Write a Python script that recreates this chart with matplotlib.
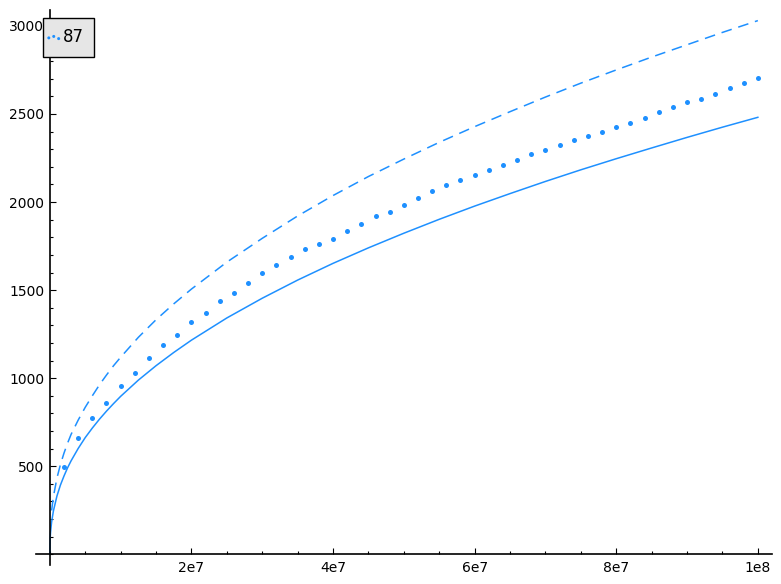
import matplotlib
matplotlib.use("Agg")
import matplotlib.pyplot as plt
from matplotlib.ticker import MultipleLocator, FixedLocator, FixedFormatter
from matplotlib.legend_handler import HandlerPathCollection

# point series (legend "87"), one dot every 2e6
dot_x = [2e6 * (i + 1) for i in range(50)]
dot_y = [496, 661, 773, 862, 955, 1027, 1114, 1186, 1244, 1318,
         1369, 1436, 1483, 1538, 1595, 1640, 1688, 1733, 1761, 1792,
         1837, 1877, 1919, 1946, 1981, 2025, 2064, 2097, 2127, 2152,
         2184, 2210, 2241, 2273, 2297, 2322, 2350, 2373, 2396, 2426,
         2449, 2476, 2510, 2538, 2566, 2585, 2614, 2646, 2676, 2705]

# curves
curve_x = [0, 5e4, 1e5, 2.5e5, 5e5, 1e6, 1.5e6, 2e6, 2.5e6, 3e6, 4e6, 5e6,
           6e6, 7e6, 8e6, 9e6, 1e7, 1.25e7, 1.5e7, 1.75e7, 2e7, 2.5e7, 3e7,
           3.5e7, 4e7, 4.5e7, 5e7, 5.5e7, 6e7, 6.5e7, 7e7, 7.5e7, 8e7,
           8.5e7, 9e7, 9.5e7, 1e8]
solid_y = [0, 94, 126, 184, 246, 331, 394, 445, 491, 531, 601, 663,
           717, 767, 813, 856, 897, 989, 1071, 1146, 1216, 1342, 1454,
           1557, 1652, 1740, 1823, 1902, 1977, 2048, 2117, 2183, 2246,
           2307, 2367, 2425, 2481]
dashed_x = curve_x[3:]
dashed_y = [249, 327, 433, 511, 575, 631, 681, 762, 835,
            900, 962, 1018, 1071, 1119, 1232, 1332, 1422, 1506, 1659, 1794,
            1921, 2037, 2145, 2244, 2339, 2428, 2513, 2596, 2675, 2750,
            2823, 2893, 2963, 3030]

xtick_vals = [2e7, 4e7, 6e7, 8e7, 1e8]
xtick_labels = ["2e7", "4e7", "6e7", "8e7", "1e8"]
legend_label = "87"

color = "#1e90ff"

fig = plt.figure(figsize=(7.81, 5.84), dpi=100)
ax = fig.add_axes([0.0457, 0.0325, 0.9428, 0.9505])

ax.plot(curve_x, solid_y, color=color, linewidth=1.1)
ax.plot(dashed_x, dashed_y, color=color, linewidth=1.1, dashes=(7, 4.5))
pts = ax.scatter(dot_x, dot_y, s=13, color=color, linewidths=0,
                 label=legend_label, zorder=3)

ax.set_xlim(-2e6, 1.02e8)
ax.set_ylim(-60.6, 3090.6)

# sage-like axes crossing at zero
for s in ["top", "right"]:
    ax.spines[s].set_visible(False)
for s in ["left", "bottom"]:
    ax.spines[s].set_position(("data", 0))
    ax.spines[s].set_linewidth(1.2)

ax.xaxis.set_major_locator(FixedLocator(xtick_vals))
ax.xaxis.set_major_formatter(FixedFormatter(xtick_labels))
ax.xaxis.set_minor_locator(MultipleLocator(5e6))
ax.yaxis.set_major_locator(FixedLocator([500, 1000, 1500, 2000, 2500, 3000]))
ax.yaxis.set_minor_locator(MultipleLocator(100))

ax.tick_params(which="both", direction="in", labelsize=10, width=0.8)
ax.tick_params(which="major", length=4)
ax.tick_params(which="minor", length=2)
ax.tick_params(axis="x", pad=5)
ax.tick_params(axis="y", pad=4)

leg = ax.legend(loc="upper left", bbox_to_anchor=(0.0099, 0.9856),
                borderaxespad=0, fontsize=12, fancybox=False,
                scatterpoints=3, handlelength=0.05, handletextpad=0.5,
                borderpad=0.62, markerscale=0.6, framealpha=1,
                handler_map={pts: HandlerPathCollection(marker_pad=-0.27)})
leg.get_frame().set_facecolor((0.9, 0.9, 0.9))
leg.get_frame().set_edgecolor("black")
leg.get_frame().set_linewidth(1.0)

fig.savefig("out.png", dpi=100)
